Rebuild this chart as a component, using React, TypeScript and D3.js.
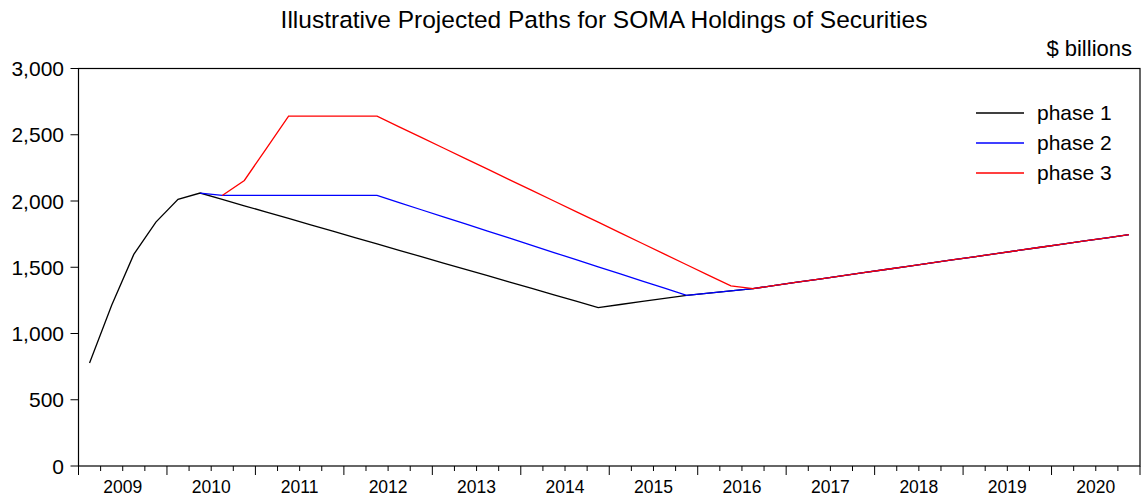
import React from "react";
import * as d3 from "d3";

const years = [2009, 2010, 2011, 2012, 2013, 2014, 2015, 2016, 2017, 2018, 2019, 2020];
const quarters = years.flatMap((y) => ["Q1", "Q2", "Q3", "Q4"].map((q) => `${y}${q}`));

const phase1: (number | null)[] = [
  778, 1213, 1597, 1841, 2012, 2060, 2012, 1964, 1916, 1868, 1820, 1772,
  1724, 1676, 1628, 1580, 1532, 1484, 1436, 1388, 1340, 1292, 1244, 1196,
  1219, 1242, 1265, 1288, 1305, 1322, 1339, 1363, 1387, 1411, 1435, 1459,
  1483, 1507, 1531, 1555, 1579, 1603, 1627, 1651, 1675, 1699, 1722, 1746,
];
const phase2: (number | null)[] = [
  null, null, null, null, null, 2060, 2042, 2042, 2042, 2042, 2042, 2042,
  2042, 2042, 1988, 1934, 1881, 1827, 1773, 1719, 1665, 1611, 1557, 1503,
  1450, 1396, 1342, 1288, 1305, 1322, 1339, 1363, 1387, 1411, 1435, 1459,
  1483, 1507, 1531, 1555, 1579, 1603, 1627, 1651, 1675, 1699, 1722, 1746,
];
const phase3: (number | null)[] = [
  null, null, null, null, null, null, 2042, 2155, 2398, 2640, 2640, 2640,
  2640, 2640, 2560, 2480, 2400, 2320, 2240, 2160, 2080, 2000, 1920, 1840,
  1759, 1679, 1599, 1519, 1439, 1359, 1339, 1363, 1387, 1411, 1435, 1459,
  1483, 1507, 1531, 1555, 1579, 1603, 1627, 1651, 1675, 1699, 1722, 1746,
];

const seriesNames = ["phase 1", "phase 2", "phase 3"];
const seriesColors = ["#000000", "#0000ff", "#ff0000"];
const yTicks = [0, 500, 1000, 1500, 2000, 2500, 3000];

const W = 1143;
const H = 499;
const left = 78.5;
const right = 1140;
const top = 68.5;
const bottom = 466;
const FONT = "Liberation Sans, Arial, sans-serif";

export default function App() {
  const x = d3.scaleLinear().domain([0, quarters.length]).range([left, right]);
  const y = d3.scaleLinear().domain([0, 3000]).range([bottom, top]);
  const line = d3
    .line<number | null>()
    .defined((d) => d !== null)
    .x((_, i) => x(i + 0.5))
    .y((d) => y(d as number));
  const all = [phase1, phase2, phase3];
  const tickIdx = d3.range(0, quarters.length + 1);

  return (
    <svg width={W} height={H} style={{ position: "absolute", left: 0, top: 0, background: "#fff" }}>
      <rect x={0} y={0} width={W} height={H} fill="#fff" />
      <text x={604} y={28} textAnchor="middle" fontFamily={FONT} fontSize={24.5} fill="#000">
        Illustrative Projected Paths for SOMA Holdings of Securities
      </text>
      <text x={1132} y={56} textAnchor="end" fontFamily={FONT} fontSize={22} fill="#000">
        $ billions
      </text>

      {all.map((s, k) => (
        <path key={k} d={line(s) || ""} fill="none" stroke={seriesColors[k]} strokeWidth={1.3} />
      ))}

      <rect x={left} y={top} width={right - left} height={bottom - top} fill="none" stroke="#000" strokeWidth={1.2} />

      {yTicks.map((t) => (
        <g key={t}>
          <line x1={left - 8} x2={left} y1={y(t)} y2={y(t)} stroke="#000" strokeWidth={1} />
          <text x={64} y={y(t)} dy="0.36em" textAnchor="end" fontFamily={FONT} fontSize={21} fill="#000">
            {d3.format(",")(t)}
          </text>
        </g>
      ))}

      {tickIdx.map((i) => (
        <line
          key={i}
          x1={x(i)}
          x2={x(i)}
          y1={bottom}
          y2={bottom + (i % 4 === 0 ? 9 : 5)}
          stroke="#000"
          strokeWidth={1}
        />
      ))}
      {years.map((yr, j) => (
        <text key={yr} x={x(j * 4 + 2)} y={493} textAnchor="middle" fontFamily={FONT} fontSize={17.5} fill="#000">
          {yr}
        </text>
      ))}

      {seriesNames.map((n, k) => (
        <g key={n}>
          <line x1={976} x2={1024} y1={113 + k * 30} y2={113 + k * 30} stroke={seriesColors[k]} strokeWidth={1.6} />
          <text x={1037} y={120 + k * 30} fontFamily={FONT} fontSize={21} fill="#000">
            {n}
          </text>
        </g>
      ))}
    </svg>
  );
}
